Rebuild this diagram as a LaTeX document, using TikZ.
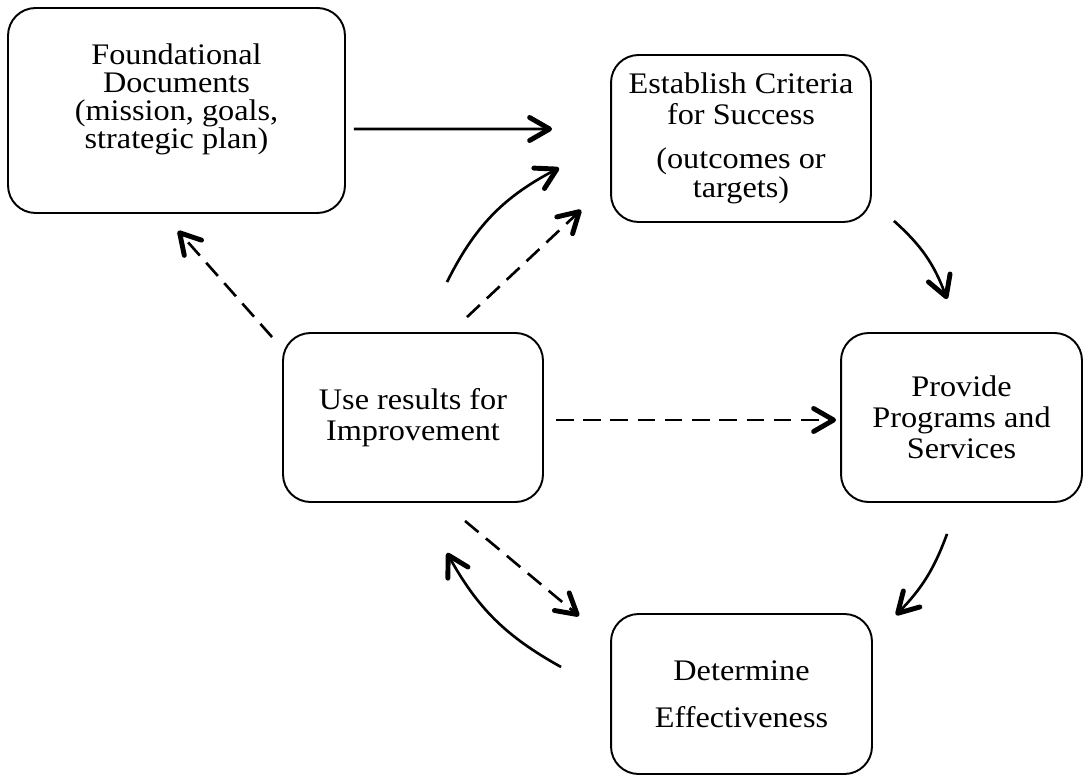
\documentclass[tikz,border=0pt]{standalone}
\usepackage{fontspec}
\setmainfont{Liberation Serif}[FakeStretch=1.08]
\usepackage{tikz}
\usetikzlibrary{arrows.meta, calc}

\begin{document}
\begin{tikzpicture}[
  x=0.02cm, y=-0.02cm,
  every node/.style={
    draw,
    rounded corners=0.55cm,
    align=center,
    font=\fontsize{17}{16}\selectfont,
    line width=1.1pt,
    inner sep=2pt
  },
  link/.style={line width=1.5pt, -{Straight Barb[length=4mm,width=4.6mm,line width'=2.8pt,round]}},
  feedback/.style={link, dash pattern=on 10pt off 5.5pt}
]
\useasboundingbox (0,0) rectangle (1087,776);

% Boxes
\node (found) [minimum width=6.74cm, minimum height=4.1cm] at (176.5,110.5)
  {Foundational\\Documents\\(mission, goals,\\strategic plan)\\\mbox{}};
\node (crit) [minimum width=5.2cm, minimum height=3.34cm] at (741,138.5)
  {Establish Criteria\\[1.5pt]for Success\\[9.5pt](outcomes or\\[0.5pt]targets)};
\node (use) [minimum width=5.2cm, minimum height=3.38cm] at (413,417.5)
  {Use results for\\[2pt]Improvement};
\node (prov) [minimum width=4.82cm, minimum height=3.38cm] at (961.5,417.5)
  {Provide\\[1.5pt]Programs and\\[1.5pt]Services};
\node (det) [minimum width=5.22cm, minimum height=3.2cm] at (741.5,694)
  {Determine\\[10.8pt]Effectiveness};

% Main cycle
\draw[link] ($(found.east)+(8,18.5)$) -- ($(crit.west)+(-58,-9.5)$);
\draw[link] ($(crit.south east)+(22,-2)$) to[bend left=14] ($(prov.north)+(-14.5,-33)$);
\draw[link] ($(prov.south)+(-14.5,31)$) to[bend left=12] ($(det.north east)+(23,2)$);
\draw[link] ($(det.west)+(-49,-27)$) to[bend left=16] ($(use.south)+(34,50)$);
\draw[link] ($(use.north)+(34,-50)$) to[bend left=18] ($(crit.south west)+(-51,-55)$);

% Feedback from results
\draw[feedback] ($(use.north west)+(-10,5)$) -- ($(found.south)+(1.5,17)$);
\draw[feedback] ($(use.north)+(54,-15)$) -- ($(crit.south west)+(-29,-13)$);
\draw[feedback] ($(use.east)+(12,2.5)$) -- ($(prov.west)+(-4,2.5)$);
\draw[feedback] ($(use.south)+(52,18)$) -- ($(det.north west)+(-31,3)$);

\end{tikzpicture}
\end{document}
